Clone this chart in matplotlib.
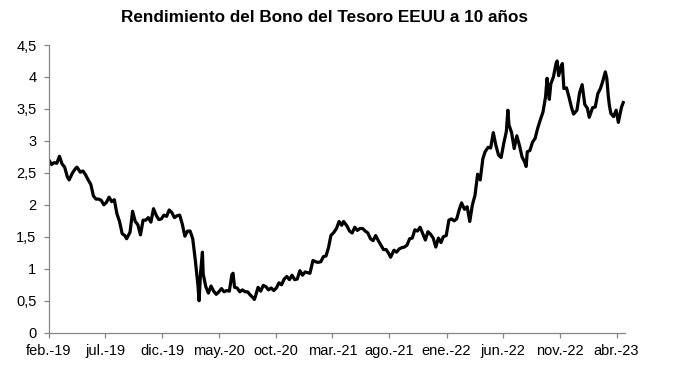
import numpy as np
import pandas as pd
import matplotlib
matplotlib.use("Agg")
import matplotlib.pyplot as plt
from matplotlib.ticker import FuncFormatter

# Rendimiento del bono a 10 años (aprox. semanales)
dates = [
    "2019-02-01", "2019-02-08", "2019-02-15", "2019-02-22", "2019-03-01", "2019-03-08",
    "2019-03-15", "2019-03-22", "2019-03-27", "2019-04-05", "2019-04-12", "2019-04-17",
    "2019-04-26", "2019-05-03", "2019-05-10", "2019-05-17", "2019-05-24", "2019-05-31",
    "2019-06-07", "2019-06-14", "2019-06-21", "2019-06-28", "2019-07-05", "2019-07-12",
    "2019-07-19", "2019-07-26", "2019-08-02", "2019-08-09", "2019-08-16", "2019-08-23",
    "2019-08-28", "2019-09-06", "2019-09-13", "2019-09-20", "2019-09-27", "2019-10-04",
    "2019-10-11", "2019-10-18", "2019-10-25", "2019-11-01", "2019-11-08", "2019-11-15",
    "2019-11-22", "2019-11-29", "2019-12-06", "2019-12-13", "2019-12-20", "2019-12-27",
    "2020-01-03", "2020-01-10", "2020-01-17", "2020-01-24", "2020-01-31", "2020-02-07",
    "2020-02-14", "2020-02-21", "2020-02-28", "2020-03-06", "2020-03-09", "2020-03-13",
    "2020-03-18", "2020-03-20", "2020-03-27", "2020-04-03", "2020-04-10", "2020-04-17",
    "2020-04-24", "2020-05-01", "2020-05-08", "2020-05-15", "2020-05-22", "2020-05-29",
    "2020-06-05", "2020-06-08", "2020-06-12", "2020-06-19", "2020-06-26", "2020-07-03",
    "2020-07-10", "2020-07-17", "2020-07-24", "2020-07-31", "2020-08-04", "2020-08-07",
    "2020-08-14", "2020-08-21", "2020-08-28", "2020-09-04", "2020-09-11", "2020-09-18",
    "2020-09-25", "2020-10-02", "2020-10-09", "2020-10-16", "2020-10-23", "2020-10-30",
    "2020-11-06", "2020-11-13", "2020-11-20", "2020-11-27", "2020-12-04", "2020-12-11",
    "2020-12-18", "2020-12-24", "2020-12-31", "2021-01-08", "2021-01-15", "2021-01-22",
    "2021-01-29", "2021-02-05", "2021-02-12", "2021-02-19", "2021-02-25", "2021-03-05",
    "2021-03-12", "2021-03-19", "2021-03-26", "2021-03-31", "2021-04-09", "2021-04-16",
    "2021-04-23", "2021-04-30", "2021-05-07", "2021-05-14", "2021-05-21", "2021-05-28",
    "2021-06-04", "2021-06-11", "2021-06-18", "2021-06-25", "2021-07-02", "2021-07-09",
    "2021-07-16", "2021-07-23", "2021-07-30", "2021-08-04", "2021-08-13", "2021-08-20",
    "2021-08-27", "2021-09-03", "2021-09-10", "2021-09-17", "2021-09-24", "2021-10-01",
    "2021-10-08", "2021-10-15", "2021-10-22", "2021-10-29", "2021-11-05", "2021-11-12",
    "2021-11-19", "2021-11-26", "2021-12-03", "2021-12-10", "2021-12-17", "2021-12-23",
    "2021-12-31", "2022-01-07", "2022-01-14", "2022-01-21", "2022-01-28", "2022-02-04",
    "2022-02-10", "2022-02-18", "2022-02-25", "2022-03-04", "2022-03-11", "2022-03-18",
    "2022-03-25", "2022-04-01", "2022-04-08", "2022-04-14", "2022-04-22", "2022-04-29",
    "2022-05-06", "2022-05-13", "2022-05-20", "2022-05-27", "2022-06-03", "2022-06-10",
    "2022-06-14", "2022-06-17", "2022-06-24", "2022-07-01", "2022-07-08", "2022-07-15",
    "2022-07-22", "2022-07-29", "2022-08-02", "2022-08-05", "2022-08-12", "2022-08-19",
    "2022-08-26", "2022-09-02", "2022-09-09", "2022-09-16", "2022-09-23", "2022-09-27",
    "2022-09-30", "2022-10-03", "2022-10-07", "2022-10-14", "2022-10-21", "2022-10-24",
    "2022-10-28", "2022-11-04", "2022-11-07", "2022-11-11", "2022-11-18", "2022-11-25",
    "2022-12-02", "2022-12-07", "2022-12-16", "2022-12-23", "2022-12-30", "2023-01-06",
    "2023-01-13", "2023-01-18", "2023-01-27", "2023-02-03", "2023-02-10", "2023-02-17",
    "2023-02-24", "2023-03-02", "2023-03-06", "2023-03-10", "2023-03-13", "2023-03-17",
    "2023-03-24", "2023-03-31", "2023-04-06", "2023-04-14", "2023-04-19",
]
yields = [
    2.70, 2.63, 2.66, 2.65, 2.76, 2.64,
    2.59, 2.44, 2.39, 2.50, 2.56, 2.59,
    2.51, 2.53, 2.47, 2.39, 2.32, 2.14,
    2.09, 2.09, 2.07, 2.00, 2.04, 2.12,
    2.05, 2.08, 1.86, 1.74, 1.55, 1.52,
    1.47, 1.57, 1.90, 1.74, 1.69, 1.53,
    1.76, 1.76, 1.80, 1.73, 1.94, 1.84,
    1.77, 1.78, 1.84, 1.82, 1.92, 1.88,
    1.80, 1.83, 1.84, 1.70, 1.51, 1.59,
    1.59, 1.47, 1.13, 0.74, 0.50, 0.94,
    1.26, 0.92, 0.72, 0.62, 0.73, 0.65,
    0.60, 0.64, 0.69, 0.64, 0.66, 0.65,
    0.91, 0.93, 0.71, 0.70, 0.64, 0.67,
    0.64, 0.64, 0.59, 0.55, 0.52, 0.57,
    0.71, 0.65, 0.74, 0.72, 0.67, 0.70,
    0.66, 0.70, 0.78, 0.75, 0.84, 0.88,
    0.83, 0.90, 0.83, 0.84, 0.97, 0.90,
    0.95, 0.94, 0.93, 1.13, 1.11, 1.10,
    1.11, 1.19, 1.20, 1.34, 1.52, 1.57,
    1.63, 1.74, 1.68, 1.74, 1.67, 1.59,
    1.56, 1.65, 1.60, 1.63, 1.63, 1.59,
    1.56, 1.47, 1.44, 1.52, 1.44, 1.37,
    1.30, 1.30, 1.24, 1.18, 1.29, 1.26,
    1.31, 1.33, 1.34, 1.37, 1.47, 1.48,
    1.61, 1.59, 1.65, 1.55, 1.45, 1.58,
    1.54, 1.48, 1.34, 1.48, 1.41, 1.50,
    1.52, 1.76, 1.78, 1.75, 1.78, 1.93,
    2.03, 1.93, 1.97, 1.74, 2.00, 2.15,
    2.48, 2.39, 2.72, 2.83, 2.90, 2.89,
    3.13, 2.93, 2.78, 2.74, 2.96, 3.15,
    3.48, 3.25, 3.13, 2.88, 3.08, 2.93,
    2.75, 2.67, 2.60, 2.83, 2.85, 2.98,
    3.04, 3.20, 3.33, 3.45, 3.69, 3.98,
    3.83, 3.65, 3.89, 4.00, 4.21, 4.25,
    4.02, 4.17, 4.21, 3.82, 3.83, 3.68,
    3.51, 3.42, 3.48, 3.75, 3.88, 3.57,
    3.51, 3.37, 3.52, 3.53, 3.74, 3.82,
    3.95, 4.08, 3.98, 3.70, 3.55, 3.43,
    3.38, 3.48, 3.29, 3.52, 3.60,
]
tick_dates = ["2019-02-01", "2019-07-01", "2019-12-01", "2020-05-01", "2020-10-01",
              "2021-03-01", "2021-08-01", "2022-01-01", "2022-06-01", "2022-11-01",
              "2023-04-01"]
tick_labels = ["feb.-19", "jul.-19", "dic.-19", "may.-20", "oct.-20", "mar.-21",
               "ago.-21", "ene.-22", "jun.-22", "nov.-22", "abr.-23"]

plt.rcParams['font.family'] = ['Liberation Sans', 'DejaVu Sans']

x = pd.to_datetime(dates)

fig = plt.figure(figsize=(6.85, 3.72), dpi=100)
ax = fig.add_axes([0.0715, 0.1056, 0.8405, 0.7734])

ax.plot(x, yields, color='black', linewidth=2.3, solid_joinstyle='round')

ax.set_xlim(pd.Timestamp("2019-02-01"), pd.Timestamp("2023-04-23"))
ax.set_ylim(0, 4.5)
ax.set_yticks(np.arange(0, 4.51, 0.5))
ax.yaxis.set_major_formatter(FuncFormatter(lambda v, p: ('%g' % v).replace('.', ',')))
ax.set_xticks(pd.to_datetime(tick_dates))
ax.set_xticklabels(tick_labels)

for side in ['top', 'right']:
    ax.spines[side].set_visible(False)
for side in ['left', 'bottom']:
    ax.spines[side].set_color('#868686')
    ax.spines[side].set_linewidth(0.9)
ax.tick_params(axis='both', colors='#868686', labelcolor='black', labelsize=10.5,
               length=3.5, width=0.9)
ax.tick_params(axis='x', pad=4.5)
ax.tick_params(axis='y', pad=5.5)

fig.text(0.473, 0.952, "Rendimiento del Bono del Tesoro EEUU a 10 años",
         ha='center', va='center', fontsize=12.3, fontweight='bold')

fig.savefig("out.png", dpi=100)
